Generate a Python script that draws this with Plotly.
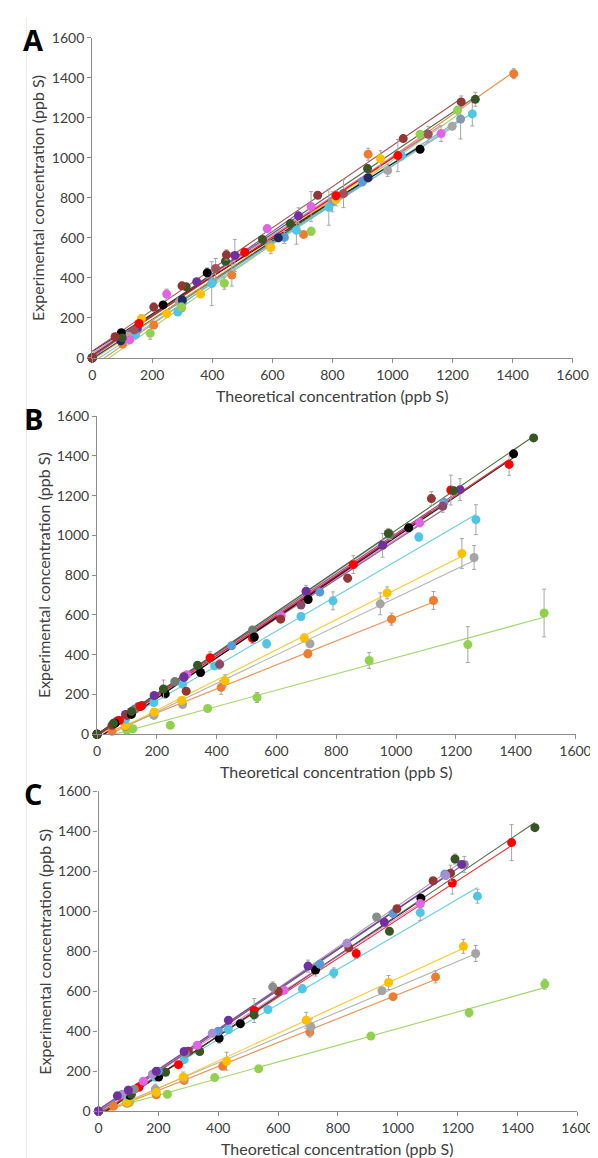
import numpy as np
import plotly.graph_objects as go

# ---------------- colours ----------------
ORANGE = "#ED7D31"; GRAY = "#A5A5A5"; YELLOW = "#FFC000"; CYAN = "#4FC6E3"
LGREEN = "#92D050"; DGREEN = "#375623"; BLACK = "#000000"; RED = "#FF0000"
MAROON = "#943634"; PURPLE = "#7030A0"; PINK = "#E264E6"; DGRAY = "#6E7B6E"
BLUE = "#5B9BD5"; MAUVE = "#A0525A"; SLATE = "#8497B0"; NAVY = "#1F2A60"
LAVENDER = "#A88FD0"; PLUM = "#8B4A6A"

# ---------------- Panel A data ----------------
A_orange_x = [0, 101, 205, 297, 465, 704, 919, 1404]
A_orange_y = [0, 69, 164, 249, 414, 617, 1018, 1420]
A_orange_e = [3, 8, 10, 12, 55, 10, 30, 25]
A_dgreen_x = [0, 100, 313, 444, 567, 660, 917, 1276]
A_dgreen_y = [0, 100, 355, 483, 592, 671, 946, 1292]
A_dgreen_e = [3, 10, 15, 20, 15, 15, 20, 35]
A_maroon_x = [0, 76, 205, 299, 447, 751, 1036, 1229]
A_maroon_y = [0, 106, 254, 360, 515, 813, 1096, 1279]
A_maroon_e = [3, 10, 20, 15, 25, 15, 15, 30]
A_lgreen_x = [0, 193, 297, 440, 729, 1092, 1217]
A_lgreen_y = [0, 123, 254, 373, 633, 1117, 1238]
A_lgreen_e = [3, 30, 20, 30, 20, 15, 20]
A_cyan_x = [0, 144, 285, 398, 680, 788, 1030, 1266]
A_cyan_y = [0, 115, 229, 371, 638, 753, 1010, 1219]
A_cyan_e = [3, 10, 15, 110, 70, 90, 20, 60]
A_gray_x = [0, 120, 290, 590, 984, 1199]
A_gray_y = [0, 110, 280, 560, 937, 1157]
A_gray_e = [3, 10, 20, 25, 30, 15]
A_slate_x = [0, 150, 400, 800, 1227]
A_slate_y = [0, 140, 380, 780, 1194]
A_slate_e = [3, 10, 20, 50, 100]
A_pink_x = [0, 125, 248, 583, 729, 1162]
A_pink_y = [0, 90, 319, 646, 756, 1121]
A_pink_e = [3, 10, 25, 20, 75, 40]
A_black_x = [0, 97, 236, 383, 1092]
A_black_y = [0, 126, 265, 425, 1042]
A_black_e = [3, 10, 15, 25, 15]
A_red_x = [0, 156, 508, 812, 1018]
A_red_y = [0, 172, 528, 810, 1011]
A_red_e = [3, 15, 15, 25, 80]
A_yellow_x = [0, 164, 248, 361, 595, 812, 960]
A_yellow_y = [0, 196, 221, 319, 551, 790, 995]
A_yellow_e = [3, 20, 15, 15, 30, 30, 40]
A_purple_x = [0, 150, 348, 475, 687]
A_purple_y = [0, 150, 381, 512, 710]
A_purple_e = [3, 10, 15, 80, 40]
A_mauve_x = [0, 140, 411, 837, 1119]
A_mauve_y = [0, 140, 447, 821, 1117]
A_mauve_e = [3, 10, 50, 70, 40]
A_blue_x = [0, 100, 300, 640, 900]
A_blue_y = [0, 90, 280, 602, 880]
A_blue_e = [3, 10, 20, 30, 20]
A_navy_x = [0, 95, 300, 620, 919]
A_navy_y = [0, 85, 290, 600, 900]
A_navy_e = [3, 8, 15, 20, 20]

# ---------------- Panel B data ----------------
B_dgreen_x = [0, 55, 115, 222, 336, 974, 1192, 1460]
B_dgreen_y = [0, 55, 115, 228, 347, 1010, 1225, 1490]
B_dgreen_e = [2, 5, 8, 45, 10, 25, 20, 5]
B_black_x = [0, 60, 115, 228, 346, 526, 706, 1042, 1393]
B_black_y = [0, 55, 100, 203, 311, 489, 678, 1038, 1410]
B_black_e = [2, 5, 5, 8, 10, 12, 15, 20, 10]
B_red_x = [0, 75, 145, 378, 520, 857, 1183, 1378]
B_red_y = [0, 70, 140, 385, 482, 853, 1228, 1357]
B_red_e = [2, 5, 8, 30, 25, 45, 75, 55]
B_maroon_x = [0, 50, 100, 150, 298, 614, 838, 1118]
B_maroon_y = [0, 45, 95, 145, 217, 579, 785, 1185]
B_maroon_e = [2, 5, 5, 8, 12, 15, 20, 35]
B_plum_x = [0, 70, 140, 290, 410, 682, 1156]
B_plum_y = [0, 70, 140, 290, 352, 650, 1146]
B_plum_e = [2, 5, 5, 8, 25, 15, 30]
B_purple_x = [0, 95, 191, 291, 699, 955, 1214]
B_purple_y = [0, 100, 195, 286, 719, 950, 1230]
B_purple_e = [2, 5, 8, 10, 30, 60, 55]
B_pink_x = [0, 65, 130, 300, 616, 1079]
B_pink_y = [0, 65, 130, 300, 595, 1063]
B_pink_e = [2, 5, 5, 8, 15, 20]
B_cyan_x = [0, 95, 190, 286, 393, 567, 682, 789, 1076, 1267]
B_cyan_y = [0, 75, 160, 253, 344, 455, 592, 671, 992, 1079]
B_cyan_e = [2, 5, 5, 8, 10, 20, 20, 45, 20, 75]
B_yellow_x = [0, 95, 191, 283, 428, 693, 970, 1220]
B_yellow_y = [0, 45, 112, 170, 269, 484, 711, 909]
B_yellow_e = [2, 5, 8, 10, 30, 20, 30, 75]
B_gray_x = [0, 95, 190, 286, 712, 947, 1261]
B_gray_y = [0, 45, 95, 150, 455, 656, 889]
B_gray_e = [2, 5, 8, 10, 15, 55, 60]
B_orange_x = [0, 50, 95, 190, 415, 705, 985, 1125]
B_orange_y = [0, 15, 40, 100, 236, 405, 579, 673]
B_orange_e = [2, 3, 5, 8, 35, 20, 30, 45]
B_lgreen_x = [0, 100, 120, 245, 370, 535, 910, 1240, 1495]
B_lgreen_y = [0, 20, 28, 45, 130, 185, 371, 451, 610]
B_lgreen_e = [2, 3, 5, 5, 8, 25, 40, 90, 120]
B_dgray_x = [0, 125, 260, 520, 980]
B_dgray_y = [0, 125, 265, 525, 1005]
B_dgray_e = [2, 5, 8, 10, 25]
B_blue_x = [0, 140, 450, 745, 1160]
B_blue_y = [0, 140, 445, 715, 1165]
B_blue_e = [2, 5, 8, 10, 20]

# ---------------- Panel C data ----------------
C_dgreen_x = [0, 110, 224, 338, 520, 972, 1191, 1458]
C_dgreen_y = [0, 85, 195, 299, 482, 900, 1262, 1419]
C_dgreen_e = [2, 5, 8, 10, 15, 15, 25, 8]
C_red_x = [0, 135, 267, 520, 861, 1182, 1380]
C_red_y = [0, 120, 233, 504, 789, 1142, 1344]
C_red_e = [2, 5, 8, 60, 25, 55, 90]
C_black_x = [0, 104, 201, 403, 474, 725, 1077]
C_black_y = [0, 80, 171, 365, 438, 706, 1066]
C_black_e = [2, 5, 8, 25, 20, 30, 30]
C_cyan_x = [0, 95, 190, 286, 434, 566, 681, 786, 1075, 1266]
C_cyan_y = [0, 80, 170, 258, 409, 509, 613, 692, 994, 1076]
C_cyan_e = [2, 5, 5, 8, 20, 10, 20, 25, 40, 35]
C_yellow_x = [0, 95, 193, 283, 428, 694, 969, 1219]
C_yellow_y = [0, 45, 94, 171, 250, 455, 644, 825]
C_yellow_e = [2, 5, 8, 25, 45, 40, 35, 35]
C_gray_x = [0, 95, 190, 286, 710, 947, 1260]
C_gray_y = [0, 45, 110, 165, 422, 603, 789]
C_gray_e = [2, 5, 25, 8, 40, 15, 40]
C_orange_x = [0, 50, 95, 193, 286, 415, 706, 984, 1126]
C_orange_y = [0, 25, 40, 82, 154, 225, 396, 573, 672]
C_orange_e = [2, 3, 5, 8, 10, 15, 25, 10, 30]
C_lgreen_x = [0, 104, 230, 388, 535, 910, 1238, 1491]
C_lgreen_y = [0, 44, 85, 168, 212, 376, 493, 636]
C_lgreen_e = [2, 5, 5, 8, 15, 10, 20, 25]
C_purple_x = [0, 63, 100, 193, 286, 434, 700, 955, 1213]
C_purple_y = [0, 77, 105, 200, 299, 455, 726, 945, 1235]
C_purple_e = [2, 5, 8, 10, 10, 15, 30, 20, 15]
C_dgray_x = [0, 120, 290, 582, 929, 1222]
C_dgray_y = [0, 110, 290, 622, 972, 1235]
C_dgray_e = [2, 5, 10, 25, 15, 40]
C_maroon_x = [0, 100, 300, 600, 836, 997, 1118, 1176]
C_maroon_y = [0, 105, 300, 600, 818, 1013, 1153, 1191]
C_maroon_e = [2, 5, 8, 10, 15, 15, 15, 40]
C_blue_x = [0, 200, 400, 740, 984, 1157]
C_blue_y = [0, 200, 400, 735, 989, 1186]
C_blue_e = [2, 5, 8, 10, 15, 20]
C_pink_x = [0, 150, 330, 620, 1075]
C_pink_y = [0, 150, 330, 605, 1038]
C_pink_e = [2, 5, 8, 10, 20]
C_lav_x = [0, 80, 180, 380, 830, 1160]
C_lav_y = [0, 85, 185, 390, 840, 1180]
C_lav_e = [2, 5, 8, 10, 15, 20]

tick_vals = [0, 200, 400, 600, 800, 1000, 1200, 1400, 1600]
x_title = "Theoretical concentration (ppb S)"
y_title = "Experimental concentration (ppb S)"

panel_A = [
    (A_orange_x, A_orange_y, A_orange_e, ORANGE), (A_gray_x, A_gray_y, A_gray_e, GRAY),
    (A_slate_x, A_slate_y, A_slate_e, SLATE), (A_cyan_x, A_cyan_y, A_cyan_e, CYAN),
    (A_blue_x, A_blue_y, A_blue_e, BLUE), (A_navy_x, A_navy_y, A_navy_e, NAVY),
    (A_yellow_x, A_yellow_y, A_yellow_e, YELLOW), (A_lgreen_x, A_lgreen_y, A_lgreen_e, LGREEN),
    (A_pink_x, A_pink_y, A_pink_e, PINK), (A_purple_x, A_purple_y, A_purple_e, PURPLE),
    (A_mauve_x, A_mauve_y, A_mauve_e, MAUVE), (A_black_x, A_black_y, A_black_e, BLACK),
    (A_red_x, A_red_y, A_red_e, RED), (A_dgreen_x, A_dgreen_y, A_dgreen_e, DGREEN),
    (A_maroon_x, A_maroon_y, A_maroon_e, MAROON),
]
panel_B = [
    (B_lgreen_x, B_lgreen_y, B_lgreen_e, LGREEN), (B_orange_x, B_orange_y, B_orange_e, ORANGE),
    (B_gray_x, B_gray_y, B_gray_e, GRAY), (B_yellow_x, B_yellow_y, B_yellow_e, YELLOW),
    (B_cyan_x, B_cyan_y, B_cyan_e, CYAN), (B_blue_x, B_blue_y, B_blue_e, BLUE),
    (B_pink_x, B_pink_y, B_pink_e, PINK), (B_plum_x, B_plum_y, B_plum_e, PLUM),
    (B_purple_x, B_purple_y, B_purple_e, PURPLE), (B_dgray_x, B_dgray_y, B_dgray_e, DGRAY),
    (B_maroon_x, B_maroon_y, B_maroon_e, MAROON), (B_red_x, B_red_y, B_red_e, RED),
    (B_black_x, B_black_y, B_black_e, BLACK), (B_dgreen_x, B_dgreen_y, B_dgreen_e, DGREEN),
]
panel_C = [
    (C_lgreen_x, C_lgreen_y, C_lgreen_e, LGREEN), (C_orange_x, C_orange_y, C_orange_e, ORANGE),
    (C_gray_x, C_gray_y, C_gray_e, GRAY), (C_yellow_x, C_yellow_y, C_yellow_e, YELLOW),
    (C_cyan_x, C_cyan_y, C_cyan_e, CYAN), (C_red_x, C_red_y, C_red_e, RED),
    (C_black_x, C_black_y, C_black_e, BLACK), (C_dgreen_x, C_dgreen_y, C_dgreen_e, DGREEN),
    (C_blue_x, C_blue_y, C_blue_e, BLUE), (C_pink_x, C_pink_y, C_pink_e, PINK),
    (C_maroon_x, C_maroon_y, C_maroon_e, MAROON), (C_lav_x, C_lav_y, C_lav_e, LAVENDER),
    (C_dgray_x, C_dgray_y, C_dgray_e, "#8C8C8C"), (C_purple_x, C_purple_y, C_purple_e, PURPLE),
]

W, H = 598, 1158
FONT = "Lato"
TXT = "#404040"
AXC = "#8C8C8C"

fig = go.Figure()


def add_panel(series, xa, ya):
    # trendlines first (linear least-squares fit of each series)
    for x, y, e, c in series:
        m, b = np.polyfit(x, y, 1)
        xs = [min(x), max(x)]
        fig.add_trace(go.Scatter(x=xs, y=[m * v + b for v in xs], mode="lines",
                                 line=dict(color=c, width=1.1), opacity=0.85,
                                 xaxis=xa, yaxis=ya, showlegend=False, hoverinfo="skip"))
    for x, y, e, c in series:
        fig.add_trace(go.Scatter(x=x, y=y, mode="markers",
                                 marker=dict(color=c, size=9),
                                 error_y=dict(type="data", array=e, color="#A6A6A6",
                                              thickness=1, width=2),
                                 cliponaxis=False, xaxis=xa, yaxis=ya, showlegend=False))


add_panel(panel_A, "x", "y")
add_panel(panel_B, "x2", "y2")
add_panel(panel_C, "x3", "y3")

# pixel geometry of each panel: (left, right, top, bottom)
geo = {
    "": (83, 580, 21, 346),
    "2": (88, 583, 405, 728),
    "3": (89.5, 585, 786, 1110.5),
}


def ax_common():
    return dict(range=[0, 1600], tickvals=tick_vals, ticks="outside", ticklen=4,
                tickcolor=AXC, showline=True, linecolor=AXC, linewidth=1.2,
                showgrid=False, zeroline=False,
                tickfont=dict(family=FONT, size=14, color=TXT))


layout = dict(width=W, height=H, margin=dict(l=0, r=0, t=0, b=0),
              plot_bgcolor="white", paper_bgcolor="white", showlegend=False)
annotations = []
letters = {"": "A", "2": "B", "3": "C"}
for k, (l, r, t, b) in geo.items():
    xa = dict(ax_common(), domain=[l / W, r / W], anchor="y" + k)
    ya = dict(ax_common(), domain=[1 - b / H, 1 - t / H], anchor="x" + k)
    layout["xaxis" + k] = xa
    layout["yaxis" + k] = ya
    annotations.append(dict(text=x_title, x=(l + r) / 2 / W, y=1 - (b + 38) / H,
                            xref="paper", yref="paper", showarrow=False,
                            font=dict(family=FONT, size=16, color=TXT),
                            xanchor="center", yanchor="middle"))
    annotations.append(dict(text=y_title, x=(l - 56) / W, y=1 - (t + b) / 2 / H,
                            xref="paper", yref="paper", showarrow=False, textangle=-90,
                            font=dict(family=FONT, size=16, color=TXT),
                            xanchor="center", yanchor="middle"))
    annotations.append(dict(text="<b>" + letters[k] + "</b>", x=22 / W, y=1 - (t + 2) / H,
                            xref="paper", yref="paper", showarrow=False,
                            font=dict(family="Open Sans", size=29, color="#000000"),
                            xanchor="center", yanchor="middle"))
layout["annotations"] = annotations
layout["shapes"] = [dict(type="line", xref="paper", yref="paper", x0=15 / W, x1=15 / W,
                         y0=0, y1=1, line=dict(color="#EBEBEB", width=1))]
fig.update_layout(**layout)
fig.write_html("out.html")
